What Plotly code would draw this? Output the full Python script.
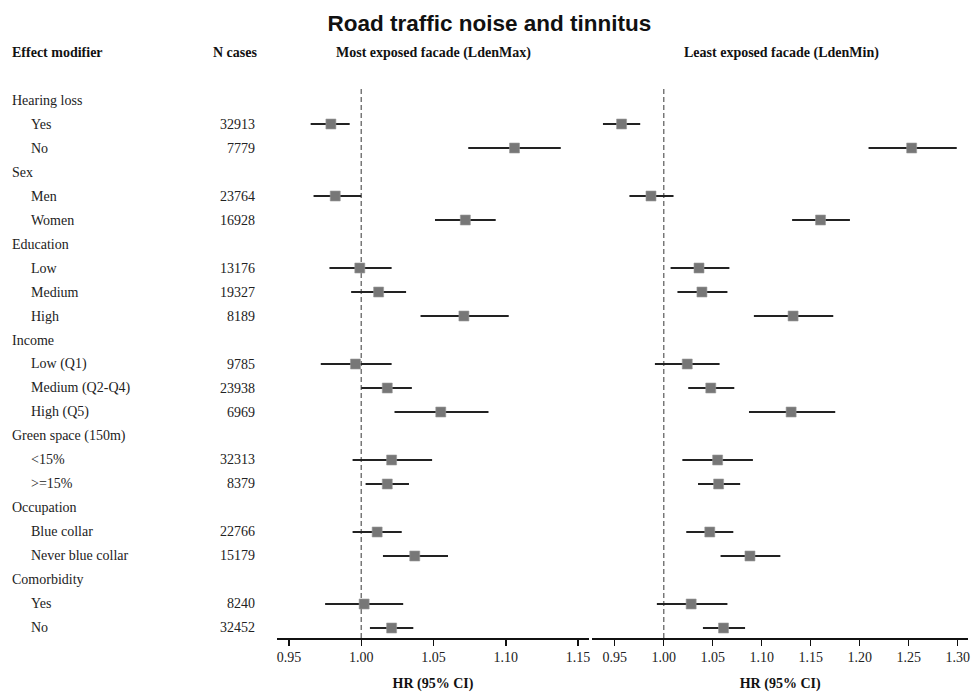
import plotly.graph_objects as go

# ---------------- data ----------------
row_labels = ["Hearing loss", "Yes", "No",
              "Sex", "Men", "Women",
              "Education", "Low", "Medium", "High",
              "Income", "Low (Q1)", "Medium (Q2-Q4)", "High (Q5)",
              "Green space (150m)", "<15%", ">=15%",
              "Occupation", "Blue collar", "Never blue collar",
              "Comorbidity", "Yes", "No"]
is_group = [True, False, False,
            True, False, False,
            True, False, False, False,
            True, False, False, False,
            True, False, False,
            True, False, False,
            True, False, False]
n_cases = ["", "32913", "7779",
           "", "23764", "16928",
           "", "13176", "19327", "8189",
           "", "9785", "23938", "6969",
           "", "32313", "8379",
           "", "22766", "15179",
           "", "8240", "32452"]

# Most exposed facade (LdenMax): HR, lower CI, upper CI (subgroup rows only)
max_hr = [0.979, 1.106, 0.982, 1.072, 0.999, 1.012, 1.071, 0.996, 1.018, 1.055,
          1.021, 1.018, 1.011, 1.037, 1.002, 1.021]
max_lo = [0.965, 1.074, 0.967, 1.051, 0.978, 0.993, 1.041, 0.972, 1.000, 1.023,
          0.994, 1.003, 0.994, 1.015, 0.975, 1.006]
max_hi = [0.992, 1.138, 1.000, 1.093, 1.021, 1.031, 1.102, 1.021, 1.035, 1.088,
          1.049, 1.033, 1.028, 1.060, 1.029, 1.036]

# Least exposed facade (LdenMin)
min_hr = [0.957, 1.253, 0.987, 1.160, 1.036, 1.039, 1.132, 1.024, 1.048, 1.130,
          1.055, 1.056, 1.047, 1.088, 1.028, 1.061]
min_lo = [0.938, 1.209, 0.965, 1.131, 1.007, 1.014, 1.092, 0.991, 1.025, 1.087,
          1.019, 1.035, 1.023, 1.058, 0.993, 1.040]
min_hi = [0.976, 1.299, 1.010, 1.190, 1.067, 1.065, 1.173, 1.057, 1.072, 1.175,
          1.091, 1.078, 1.071, 1.119, 1.065, 1.083]

left_ticks = [0.95, 1.00, 1.05, 1.10, 1.15]
right_ticks = [0.95, 1.00, 1.05, 1.10, 1.15, 1.20, 1.25, 1.30]

# ---------------- layout geometry ----------------
W, H = 972, 692
L_PX, R_PX, T_PX, B_PX = 277, 970, 88, 638   # plot area in window pixels
ML, MT = L_PX, T_PX
MR, MB = W - R_PX, H - B_PX
PW, PH = R_PX - L_PX, B_PX - T_PX


def px_x(px):
    return (px - L_PX) / PW


def px_y(py):
    return 1 - (py - T_PX) / PH


SERIF = "Liberation Serif, Times New Roman, serif"
SANS = "Liberation Sans, Arial, sans-serif"

sub_rows = [i for i, g in enumerate(is_group) if not g]

fig = go.Figure()


def add_panel(hr, lo, hi, xa):
    fig.add_trace(go.Scatter(
        x=hr, y=sub_rows, xaxis=xa, yaxis="y", mode="markers",
        marker=dict(symbol="square", size=10, color="#777777",
                    line=dict(color="#9a9a9a", width=0.6)),
        error_x=dict(type="data", symmetric=False,
                     array=[h - m for h, m in zip(hi, hr)],
                     arrayminus=[m - l for m, l in zip(hr, lo)],
                     color="#222222", thickness=2, width=0),
        showlegend=False, hoverinfo="skip"))


add_panel(max_hr, max_lo, max_hi, "x")
add_panel(min_hr, min_lo, min_hi, "x2")

# reference lines at HR = 1
for xr in ["x", "x2"]:
    fig.add_shape(type="line", xref=xr, yref="paper", x0=1.0, x1=1.0, y0=0, y1=1,
                  line=dict(color="#777777", width=1.5, dash="5px,3px"), layer="below")

axis_common = dict(showline=True, linecolor="#111111", linewidth=1.5,
                   ticks="outside", ticklen=6, tickwidth=1.5, tickcolor="#111111",
                   showgrid=False, zeroline=False, tickformat=".2f",
                   tickfont=dict(family=SERIF, size=14, color="#222222"),
                   title=dict(text="<b>HR (95% CI)</b>", standoff=14,
                              font=dict(family=SERIF, size=14, color="#111111")),
                   fixedrange=True)

fig.update_layout(
    width=W, height=H,
    margin=dict(l=ML, r=MR, t=MT, b=MB),
    paper_bgcolor="white", plot_bgcolor="white",
    title=dict(text="<b>Road traffic noise and tinnitus</b>",
               x=px_x(490), xref="paper", xanchor="center",
               y=1 - 23 / H, yref="container", yanchor="middle",
               font=dict(family=SANS, size=22.5, color="#111111")),
    xaxis=dict(domain=[0, px_x(590)], range=[0.94172, 1.15759],
               tickvals=left_ticks, **axis_common),
    xaxis2=dict(domain=[px_x(593.3), 1], range=[0.92721, 1.31048],
                tickvals=right_ticks, anchor="y", **axis_common),
    yaxis=dict(range=[22.417, -0.5], visible=False, fixedrange=True),
)

annotations = []
# column headers
hdr_font = dict(family=SERIF, size=14, color="#111111")
hdr_y = px_y(53)
annotations.append(dict(text="<b>Effect modifier</b>", x=px_x(9.5), y=hdr_y, xanchor="left"))
annotations.append(dict(text="<b>N cases</b>", x=px_x(234.5), y=hdr_y, xanchor="center"))
annotations.append(dict(text="<b>Most exposed facade (LdenMax)</b>", x=px_x(434), y=hdr_y, xanchor="center"))
annotations.append(dict(text="<b>Least exposed facade (LdenMin)</b>", x=px_x(782.5), y=hdr_y, xanchor="center"))
for a in annotations:
    a.update(xref="paper", yref="paper", yanchor="middle", showarrow=False, font=hdr_font)

lab_font = dict(family=SERIF, size=14, color="#222222")
for i, (lab, grp, n) in enumerate(zip(row_labels, is_group, n_cases)):
    annotations.append(dict(text=lab, xref="paper", yref="y",
                            x=px_x(9.5 if grp else 28), y=i,
                            xanchor="left", yanchor="middle",
                            showarrow=False, font=lab_font))
    if n:
        annotations.append(dict(text=n, xref="paper", yref="y",
                                x=px_x(257), y=i,
                                xanchor="right", yanchor="middle",
                                showarrow=False, font=lab_font))

fig.update_layout(annotations=annotations)

# remove the page's default body margin so the 972x692 figure fills the window exactly
fig.write_html("out.html",
               config={"displayModeBar": False, "staticPlot": True},
               post_script="document.body.style.margin='0';document.body.style.overflow='hidden';")
